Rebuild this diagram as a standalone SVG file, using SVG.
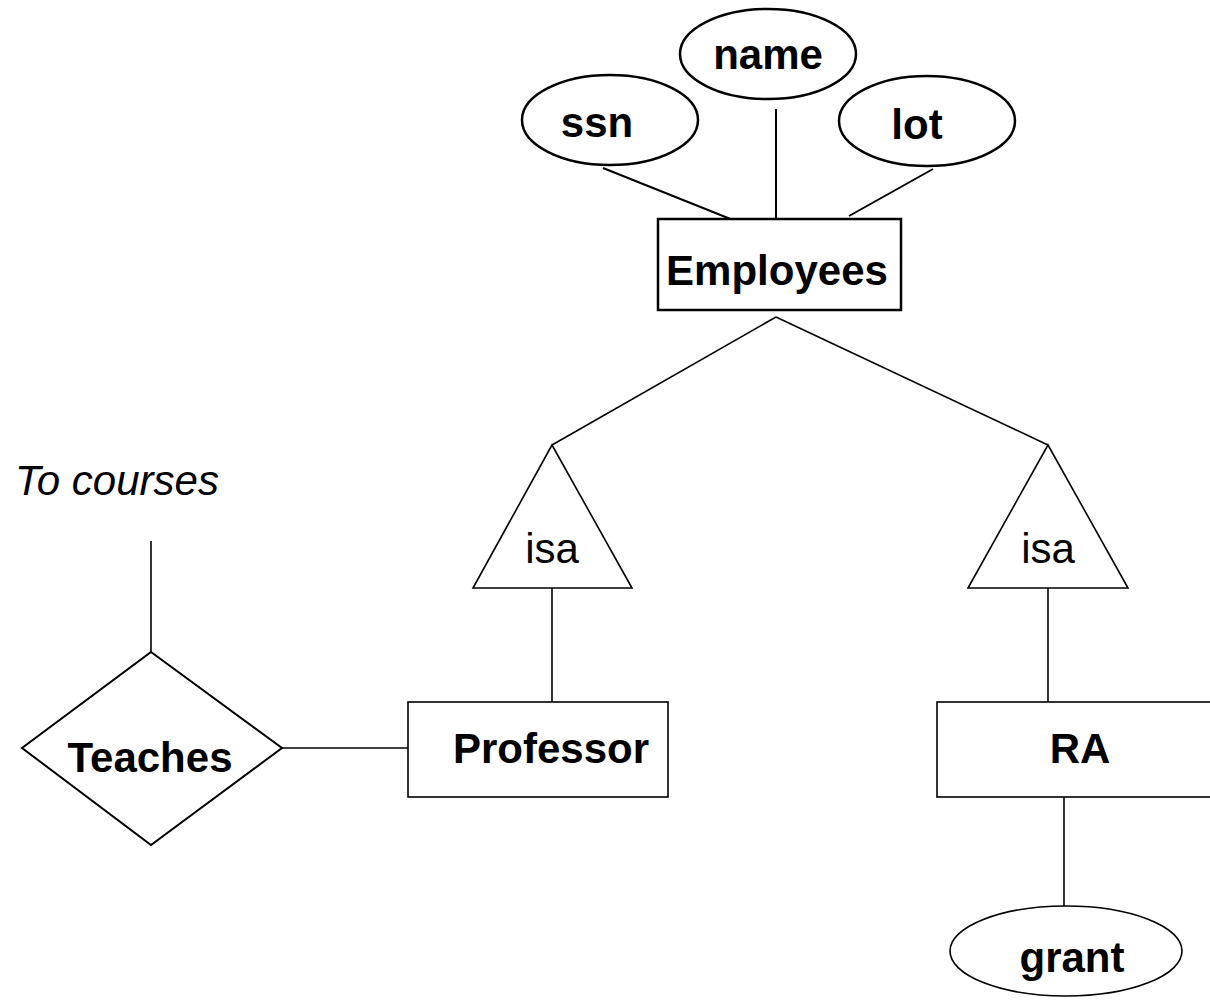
<svg xmlns="http://www.w3.org/2000/svg" width="1210" height="1002" viewBox="0 0 1210 1002">
  <style>
    .shape { fill: #ffffff; stroke: #000000; }
    .thick { stroke-width: 2.5; }
    .thin { stroke-width: 1.6; }
    .link { stroke: #000000; stroke-width: 1.6; fill: none; }
    .attr-link { stroke: #000000; stroke-width: 2; fill: none; }
    .bold { font-family: "Liberation Sans", Arial, sans-serif; font-weight: bold; font-size: 42px; fill: #000000; text-anchor: middle; }
    .plain { font-family: "Liberation Sans", Arial, sans-serif; font-size: 42px; fill: #000000; text-anchor: middle; }
    .note { font-family: "Liberation Sans", Arial, sans-serif; font-style: italic; font-size: 42px; fill: #000000; }
  </style>
  <rect width="1210" height="1002" fill="#ffffff"/>

  <!-- connectors -->
  <g id="connectors">
    <line class="attr-link" x1="603" y1="168" x2="733" y2="220"/>
    <line class="attr-link" x1="776" y1="109" x2="776" y2="219"/>
    <line class="attr-link" x1="933" y1="169" x2="849" y2="216"/>
    <line class="link" x1="776" y1="317" x2="552" y2="445"/>
    <line class="link" x1="776" y1="317" x2="1048" y2="445"/>
    <line class="link" x1="552" y1="588" x2="552" y2="702"/>
    <line class="link" x1="1048" y1="588" x2="1048" y2="702"/>
    <line class="link" x1="282" y1="748" x2="408" y2="748"/>
    <line class="link" x1="151" y1="541" x2="151" y2="652"/>
    <line class="link" x1="1064" y1="797" x2="1064" y2="907"/>
  </g>

  <!-- attributes of Employees -->
  <g id="attr-name">
    <ellipse class="shape thick" cx="768" cy="54" rx="88" ry="45"/>
    <text class="bold" x="768" y="69">name</text>
  </g>
  <g id="attr-ssn">
    <ellipse class="shape thick" cx="610" cy="120" rx="88" ry="45"/>
    <text class="bold" x="597" y="137">ssn</text>
  </g>
  <g id="attr-lot">
    <ellipse class="shape thick" cx="927" cy="121" rx="88" ry="45"/>
    <text class="bold" x="917" y="139">lot</text>
  </g>

  <!-- entity sets -->
  <g id="employees">
    <rect class="shape thick" x="658" y="219" width="243" height="91"/>
    <text class="bold" x="777" y="285">Employees</text>
  </g>
  <g id="professor">
    <rect class="shape thin" x="408" y="702" width="260" height="95"/>
    <text class="bold" x="551" y="763">Professor</text>
  </g>
  <g id="ra">
    <rect class="shape thin" x="937" y="702" width="290" height="95"/>
    <text class="bold" x="1080" y="763">RA</text>
  </g>

  <!-- ISA hierarchies -->
  <g id="isa-professor">
    <polygon class="shape thin" points="552,445 632,588 473,588"/>
    <text class="plain" x="552" y="563">isa</text>
  </g>
  <g id="isa-ra">
    <polygon class="shape thin" points="1048,445 1128,588 968,588"/>
    <text class="plain" x="1048" y="563">isa</text>
  </g>

  <!-- relationship set -->
  <g id="teaches">
    <polygon class="shape" stroke-width="2" points="151,652 282,748 151,845 22,748"/>
    <text class="bold" x="150" y="772">Teaches</text>
  </g>
  <g id="to-courses">
    <text class="note" x="15" y="495">To courses</text>
  </g>

  <!-- attribute of RA -->
  <g id="attr-grant">
    <ellipse class="shape thin" cx="1066" cy="951" rx="116" ry="45"/>
    <text class="bold" x="1072" y="972">grant</text>
  </g>
</svg>
